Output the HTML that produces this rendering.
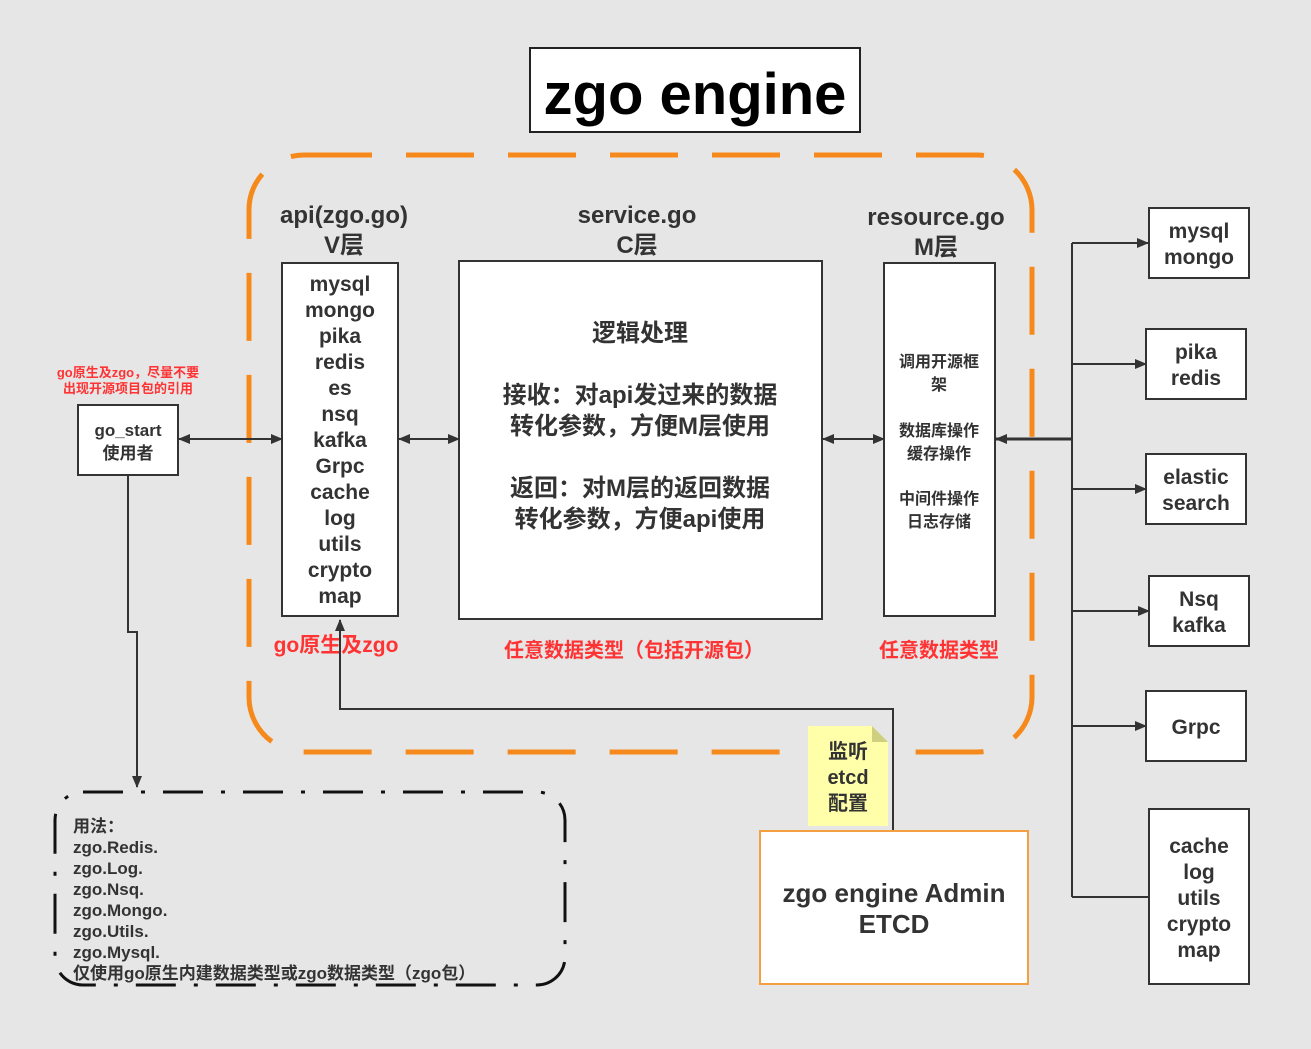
<!DOCTYPE html>
<html><head><meta charset="utf-8"><style>
html,body{margin:0;padding:0;background:#e6e6e6;}
svg{display:block}
text{font-family:"Liberation Sans","Noto Sans CJK SC",sans-serif;font-weight:bold;fill:#333}
</style></head><body>
<svg width="1311" height="1049" viewBox="0 0 1311 1049" xmlns="http://www.w3.org/2000/svg">
<defs>
<marker id="ah" markerWidth="12" markerHeight="10" refX="11" refY="5" orient="auto" markerUnits="userSpaceOnUse">
<path d="M0,0 L12,5 L0,10 z" fill="#333"/></marker>
<marker id="as" markerWidth="12" markerHeight="10" refX="1" refY="5" orient="auto" markerUnits="userSpaceOnUse">
<path d="M12,0 L0,5 L12,10 z" fill="#333"/></marker>
</defs>
<rect width="1311" height="1049" fill="#e6e6e6"/>
<rect x="249" y="155" width="783" height="597" rx="55" fill="none" stroke="#f5891b" stroke-width="5" stroke-dasharray="68 34"/>
<rect x="530" y="48" width="330" height="84" fill="#fff" stroke="#222" stroke-width="2"/>
<text x="695" y="114" font-size="58" text-anchor="middle" style="fill:#000">zgo engine</text>
<g font-size="24" text-anchor="middle">
<text x="344" y="223">api(zgo.go)</text><text x="344" y="253">V层</text>
<text x="637" y="223">service.go</text><text x="637" y="253">C层</text>
<text x="936" y="225">resource.go</text><text x="936" y="255">M层</text>
</g>
<rect x="282" y="263" width="116" height="353" fill="#fff" stroke="#333" stroke-width="2"/>
<g font-size="21" text-anchor="middle">
<text x="340" y="291">mysql</text><text x="340" y="317">mongo</text><text x="340" y="343">pika</text>
<text x="340" y="369">redis</text><text x="340" y="395">es</text><text x="340" y="421">nsq</text>
<text x="340" y="447">kafka</text><text x="340" y="473">Grpc</text><text x="340" y="499">cache</text>
<text x="340" y="525">log</text><text x="340" y="551">utils</text><text x="340" y="577">crypto</text>
<text x="340" y="603">map</text>
</g>
<rect x="459" y="261" width="363" height="358" fill="#fff" stroke="#333" stroke-width="2"/>
<g font-size="24" text-anchor="middle">
<text x="640" y="341">逻辑处理</text>
<text x="640" y="403">接收：对api发过来的数据</text>
<text x="640" y="434">转化参数，方便M层使用</text>
<text x="640" y="496">返回：对M层的返回数据</text>
<text x="640" y="527">转化参数，方便api使用</text>
</g>
<rect x="884" y="263" width="111" height="353" fill="#fff" stroke="#333" stroke-width="2"/>
<g font-size="16" text-anchor="middle">
<text x="939" y="367">调用开源框</text><text x="939" y="390">架</text>
<text x="939" y="436">数据库操作</text><text x="939" y="459">缓存操作</text>
<text x="939" y="504">中间件操作</text><text x="939" y="527">日志存储</text>
</g>
<g text-anchor="middle">
<text x="336" y="652" font-size="21" style="fill:#f33">go原生及zgo</text>
<text x="634" y="657" font-size="20" style="fill:#f33">任意数据类型（包括开源包）</text>
<text x="939" y="657" font-size="20" style="fill:#f33">任意数据类型</text>
<text x="128" y="377" font-size="13" style="fill:#f33">go原生及zgo，尽量不要</text>
<text x="128" y="393" font-size="13" style="fill:#f33">出现开源项目包的引用</text>
</g>
<rect x="78" y="405" width="100" height="70" fill="#fff" stroke="#333" stroke-width="2"/>
<text x="128" y="436" font-size="17" text-anchor="middle">go_start</text>
<text x="128" y="459" font-size="17" text-anchor="middle">使用者</text>
<g stroke="#333" stroke-width="2" fill="none">
<line x1="179" y1="439" x2="282" y2="439" marker-start="url(#as)" marker-end="url(#ah)"/>
<line x1="399" y1="439" x2="459" y2="439" marker-start="url(#as)" marker-end="url(#ah)"/>
<line x1="823" y1="439" x2="884" y2="439" marker-start="url(#as)" marker-end="url(#ah)"/>
<line x1="1072" y1="439" x2="996" y2="439" stroke-width="3" marker-end="url(#ah)"/>
<line x1="1072" y1="243" x2="1072" y2="897"/>
<line x1="1072" y1="243" x2="1148" y2="243" marker-end="url(#ah)"/>
<line x1="1072" y1="364" x2="1146" y2="364" marker-end="url(#ah)"/>
<line x1="1072" y1="489" x2="1146" y2="489" marker-end="url(#ah)"/>
<line x1="1072" y1="611" x2="1149" y2="611" marker-end="url(#ah)"/>
<line x1="1072" y1="726" x2="1146" y2="726" marker-end="url(#ah)"/>
<line x1="1072" y1="897" x2="1149" y2="897"/>
<polyline points="128,475 128,632 137,632 137,787" marker-end="url(#ah)"/>
<polyline points="893,831 893,709 340,709 340,620" marker-end="url(#ah)"/>
</g>
<g fill="#fff" stroke="#333" stroke-width="2">
<rect x="1149" y="208" width="100" height="70"/>
<rect x="1146" y="329" width="100" height="70"/>
<rect x="1146" y="454" width="100" height="70"/>
<rect x="1149" y="576" width="100" height="70"/>
<rect x="1146" y="691" width="100" height="70"/>
<rect x="1149" y="809" width="100" height="175"/>
</g>
<g font-size="21" text-anchor="middle">
<text x="1199" y="238">mysql</text><text x="1199" y="264">mongo</text>
<text x="1196" y="359">pika</text><text x="1196" y="385">redis</text>
<text x="1196" y="484">elastic</text><text x="1196" y="510">search</text>
<text x="1199" y="606">Nsq</text><text x="1199" y="632">kafka</text>
<text x="1196" y="734">Grpc</text>
<text x="1199" y="853">cache</text><text x="1199" y="879">log</text><text x="1199" y="905">utils</text>
<text x="1199" y="931">crypto</text><text x="1199" y="957">map</text>
</g>
<rect x="760" y="831" width="268" height="153" fill="#fff" stroke="#f5a040" stroke-width="2"/>
<text x="894" y="902" font-size="26" text-anchor="middle">zgo engine Admin</text>
<text x="894" y="933" font-size="26" text-anchor="middle">ETCD</text>
<path d="M808,726 L872,726 L888,742 L888,826 L808,826 z" fill="#ffffaa"/>
<path d="M872,726 L888,742 L872,742 z" fill="#cfcf80"/>
<g font-size="20" text-anchor="middle">
<text x="848" y="758">监听</text><text x="848" y="784">etcd</text><text x="848" y="810">配置</text>
</g>
<rect x="55" y="792" width="510" height="193" rx="28" fill="none" stroke="#111" stroke-width="3" stroke-dasharray="40 18 4 18"/>
<g font-size="17">
<text x="73" y="832">用法：</text>
<text x="73" y="853">zgo.Redis.</text>
<text x="73" y="874">zgo.Log.</text>
<text x="73" y="895">zgo.Nsq.</text>
<text x="73" y="916">zgo.Mongo.</text>
<text x="73" y="937">zgo.Utils.</text>
<text x="73" y="958">zgo.Mysql.</text>
<text x="73" y="979">仅使用go原生内建数据类型或zgo数据类型（zgo包）</text>
</g>
</svg>
</body></html>
